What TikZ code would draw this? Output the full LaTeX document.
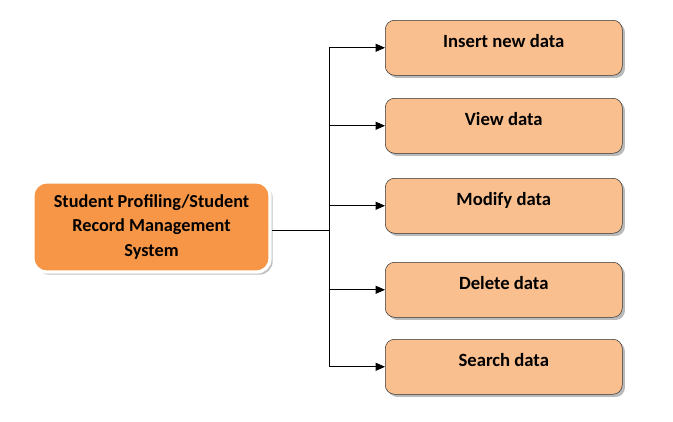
\documentclass[tikz,border=0pt]{standalone}
\usepackage{fontspec}
\setmainfont{Carlito}
\usetikzlibrary{arrows.meta, shadows}
\definecolor{taskfill}{RGB}{250,191,143}
\definecolor{sysfill}{RGB}{247,150,70}

\begin{document}
\begin{tikzpicture}[x=0.75pt, y=-0.75pt,
    taskbox/.style={draw=black!80, fill=taskfill, rounded corners=7pt,
        minimum width=177.75pt, inner xsep=0pt, inner ysep=0pt,
        text height=20.25pt, text depth=21pt, anchor=north west,
        font=\fontsize{14}{16}\selectfont\bfseries,
        drop shadow={shadow xshift=2pt, shadow yshift=-2pt, fill=black!45, opacity=0.6}},
    sysbox/.style={draw=white, line width=2.5pt, fill=sysfill, rounded corners=10pt,
        minimum width=177.75pt, minimum height=67.5pt, align=center,
        font=\fontsize{13.7}{18.4}\selectfont\bfseries,
        drop shadow={shadow xshift=2pt, shadow yshift=-2pt, fill=black!40, opacity=0.6}},
    link/.style={draw=black, line width=0.6pt},
    arrow/.style={link, -{Triangle[length=7pt, width=6pt]}}]
    \fill[white] (0,0) rectangle (673,421);
    \useasboundingbox (0,0) rectangle (673,421);

    % main system
    \node[sysbox] (sys) at (151.5,227) {Student Profiling/Student\\Record Management\\System};
    \coordinate (trunk) at (329,230);

    % tasks
    \foreach \name/\top/\txt in {insert/20/Insert new data, view/98/View data,
        modify/178/Modify data, delete/262/Delete data, search/339/Search data}{
        \node[taskbox] (\name) at (385,\top) {\txt};
        \draw[arrow] (trunk |- \name.west) -- (\name.west);
    }

    \draw[link] (sys.east |- trunk) -- (trunk);
    \draw[link] (trunk |- insert.west) -- (trunk |- search.west);
\end{tikzpicture}
\end{document}
